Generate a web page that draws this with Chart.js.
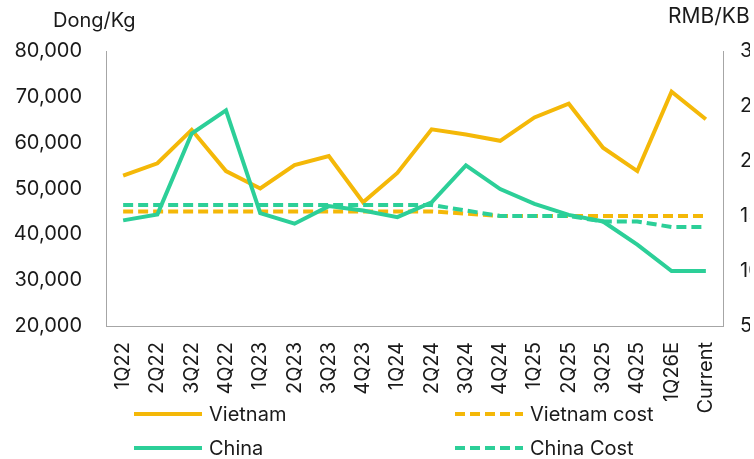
<!DOCTYPE html>
<html>
<head>
<meta charset="utf-8">
<script src="https://cdn.jsdelivr.net/npm/chart.js@4.4.1/dist/chart.umd.min.js"></script>
<style>
  html, body { margin: 0; padding: 0; background: #fff; overflow: hidden; width: 754px; height: 459px; }
  #clip { position: relative; width: 750px; height: 459px; overflow: hidden; }
  #wrap { position: relative; width: 800px; height: 459px; font-family: Inter, sans-serif; color: #1a1a1a; }
  #wrap canvas { position: absolute; left: 0; top: 0; }
  .axisTitle { position: absolute; font-size: 20px; line-height: 20px; white-space: nowrap; }
  .legendItem { position: absolute; display: flex; align-items: center; font-size: 20px; white-space: nowrap; }
  .legendItem svg { margin-right: 7px; }
</style>
</head>
<body>
<div id="clip">
<div id="wrap">
  <canvas id="chart"></canvas>
  <div class="axisTitle" id="titleLeft" style="left:53px; top:10px;">Dong/Kg</div>
  <div class="axisTitle" id="titleRight" style="left:668px; top:6px; font-size:21px;">RMB/KB</div>
  <div id="legend"></div>
</div>
</div>
<script>
const quarters = ['1Q22', '2Q22', '3Q22', '4Q22', '1Q23', '2Q23', '3Q23', '4Q23', '1Q24',
                  '2Q24', '3Q24', '4Q24', '1Q25', '2Q25', '3Q25', '4Q25', '1Q26E', 'Current'];

// Dong/Kg (left axis)
const vietnamPrice = [52800, 55500, 62800, 53800, 50000, 55100, 57100, 47000, 53400,
                      62900, 61800, 60400, 65500, 68500, 58900, 53800, 71100, 65100];
const vietnamCost = [45000, 45000, 45000, 45000, 45000, 45000, 45000, 45000, 45000,
                     45000, 44500, 44000, 44000, 44000, 44000, 44000, 44000, 44000];

// RMB/Kg (right axis)
const chinaPrice = [14.6, 15.15, 22.5, 24.6, 15.25, 14.3, 15.9, 15.5, 14.9,
                    16.25, 19.6, 17.45, 16.1, 15.1, 14.5, 12.4, 10.0, 10.0];
const chinaCost = [16, 16, 16, 16, 16, 16, 16, 16, 16,
                   16, 15.5, 15, 15, 15, 14.5, 14.5, 14, 14];

const leftTicks = [20000, 30000, 40000, 50000, 60000, 70000, 80000];
const rightTicks = [5, 10, 15, 20, 25, 30];

const ORANGE = '#f4b808';
const GREEN = '#2ccf98';
const AXIS = '#a6a6a6';
const TEXT = '#1a1a1a';

const chartLeft = 106, chartRight = 723, chartTop = 51, chartBottom = 326;
const canvasW = 800, canvasH = 459;

const series = [
  { label: 'Vietnam', data: vietnamPrice, color: ORANGE, dash: [], axis: 'y', order: 3 },
  { label: 'China', data: chinaPrice, color: GREEN, dash: [], axis: 'y1', order: 0 },
  { label: 'Vietnam cost', data: vietnamCost, color: ORANGE, dash: [10, 5], axis: 'y', order: 2 },
  { label: 'China Cost', data: chinaCost, color: GREEN, dash: [10, 5], axis: 'y1', order: 1 }
];

const canvas = document.getElementById('chart');
canvas.width = canvasW;
canvas.height = canvasH;
canvas.style.width = canvasW + 'px';
canvas.style.height = canvasH + 'px';

const tickFont = { family: 'Inter', size: 20 };

new Chart(canvas.getContext('2d'), {
  type: 'line',
  data: {
    labels: quarters,
    datasets: series.map(s => ({
      label: s.label,
      data: s.data,
      borderColor: s.color,
      backgroundColor: s.color,
      borderWidth: 4,
      borderDash: s.dash,
      borderCapStyle: 'butt',
      borderJoinStyle: 'miter',
      pointRadius: 0,
      tension: 0,
      fill: false,
      yAxisID: s.axis,
      order: s.order
    }))
  },
  options: {
    responsive: false,
    animation: false,
    layout: { padding: { top: chartTop, left: 0, right: 0, bottom: 0 } },
    plugins: {
      legend: { display: false },
      tooltip: { enabled: false },
      title: { display: false }
    },
    scales: {
      x: {
        offset: true,
        grid: { display: false, drawTicks: false },
        border: { display: true, color: AXIS, width: 1 },
        ticks: {
          autoSkip: false,
          minRotation: 90,
          maxRotation: 90,
          padding: 16,
          color: TEXT,
          font: tickFont
        },
        afterFit: scale => { scale.height = canvasH - chartBottom; }
      },
      y: {
        position: 'left',
        min: leftTicks[0],
        max: leftTicks[leftTicks.length - 1],
        grid: { display: false, drawTicks: false },
        border: { display: true, color: AXIS, width: 1 },
        afterBuildTicks: scale => { scale.ticks = leftTicks.map(v => ({ value: v })); },
        ticks: {
          padding: 24,
          color: TEXT,
          font: tickFont,
          callback: v => v.toLocaleString('en-US')
        },
        afterFit: scale => { scale.width = chartLeft; }
      },
      y1: {
        position: 'right',
        min: rightTicks[0],
        max: rightTicks[rightTicks.length - 1],
        grid: { display: false, drawTicks: false },
        border: { display: true, color: AXIS, width: 1 },
        afterBuildTicks: scale => { scale.ticks = rightTicks.map(v => ({ value: v })); },
        ticks: {
          padding: 17,
          color: TEXT,
          font: tickFont
        },
        afterFit: scale => { scale.width = canvasW - chartRight; }
      }
    }
  }
});

// legend laid out as a 2x2 grid below the axis labels
const legendPos = [
  { left: 134, top: 414 },
  { left: 134, top: 448 },
  { left: 455, top: 414 },
  { left: 455, top: 448 }
];
const legend = document.getElementById('legend');
series.forEach((s, i) => {
  const item = document.createElement('div');
  item.className = 'legendItem';
  item.style.left = legendPos[i].left + 'px';
  item.style.top = (legendPos[i].top - 12) + 'px';
  item.style.height = '24px';
  const dash = s.dash.length ? ` stroke-dasharray="${s.dash.join(' ')}"` : '';
  item.innerHTML = `<svg width="68" height="6"><line x1="0" y1="3" x2="68" y2="3" stroke="${s.color}" stroke-width="4"${dash}/></svg><span>${s.label}</span>`;
  legend.appendChild(item);
});
</script>
</body>
</html>
